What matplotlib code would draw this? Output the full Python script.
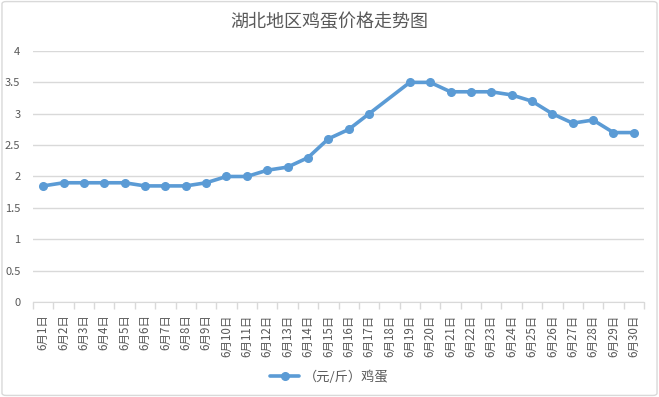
import numpy as np
import matplotlib
matplotlib.use("Agg")
import matplotlib.pyplot as plt
from matplotlib.patches import FancyBboxPatch
from matplotlib.ticker import FuncFormatter

plt.rcParams['font.family'] = ['Noto Sans CJK SC', 'DejaVu Sans']

# data (6月18日 has no value)
days = [f"6月{d}日" for d in range(1, 31)]
prices = [1.85, 1.9, 1.9, 1.9, 1.9, 1.85, 1.85, 1.85, 1.9, 2.0,
          2.0, 2.1, 2.15, 2.3, 2.6, 2.75, 3.0, None, 3.5, 3.5,
          3.35, 3.35, 3.35, 3.3, 3.2, 3.0, 2.85, 2.9, 2.7, 2.7]
yticks = [0, 0.5, 1, 1.5, 2, 2.5, 3, 3.5, 4]

line_color = '#5B9BD5'
text_color = '#595959'
grid_color = '#D9D9D9'

fig = plt.figure(figsize=(6.59, 3.97), dpi=100)
ax = fig.add_axes([33 / 659, 1 - 302 / 397, 611 / 659, 251 / 397])

# skip the empty day, line joins the neighbours like Excel does
xs = [i + 1 for i, p in enumerate(prices) if p is not None]
ys = [p for p in prices if p is not None]
ax.plot(xs, ys, color=line_color, lw=2.6, marker='o', ms=5.5,
        label='（元/斤）鸡蛋', solid_capstyle='round')

ax.set_xlim(0.5, 30.5)
ax.set_ylim(0, 4)
ax.set_yticks(yticks)
ax.yaxis.set_major_formatter(FuncFormatter(lambda v, _: f"{v:g}"))
ax.grid(axis='y', color=grid_color, lw=1)
ax.set_axisbelow(True)

ax.set_xticks(range(1, 31))
ax.set_xticklabels(days, rotation=90, fontsize=8.3, color=text_color, va='top')
ax.set_xticks(np.arange(0.5, 31, 1), minor=True)
ax.tick_params(axis='x', which='major', length=0, pad=9)
ax.tick_params(axis='x', which='minor', length=5, color=grid_color, width=1)
ax.tick_params(axis='y', length=0, labelsize=8, labelcolor=text_color, pad=9)

for s in ['top', 'right', 'left']:
    ax.spines[s].set_visible(False)
ax.spines['bottom'].set_color(grid_color)

fig.text(0.5, 1 - 22 / 397, '湖北地区鸡蛋价格走势图', ha='center', va='center',
         fontsize=13, color=text_color)

ax.legend(loc='center', bbox_to_anchor=(0.5, 1 - 377 / 397),
          bbox_transform=fig.transFigure, frameon=False, fontsize=9.5,
          labelcolor=text_color, handlelength=2.2, handletextpad=0.4)

# chart border
fig.patches.append(FancyBboxPatch((0.003, 0.004), 0.994, 0.992,
                                  boxstyle='round,pad=0,rounding_size=0.006',
                                  transform=fig.transFigure, fill=False,
                                  ec=grid_color, lw=1))

fig.savefig('out.png', dpi=100)
